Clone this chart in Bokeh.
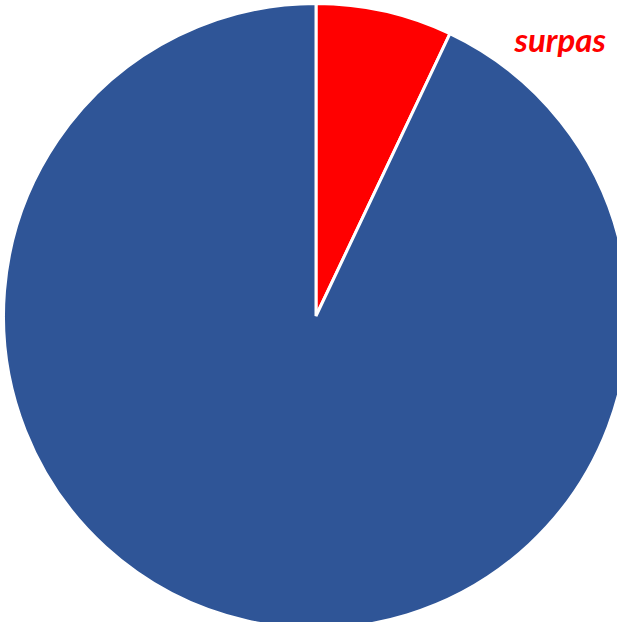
from bokeh.plotting import figure
from bokeh.models import Range1d, ColumnDataSource
from bokeh.embed import file_html
from bokeh.resources import INLINE
from bokeh.core.properties import value
import math

labels = ["surpas", "other"]
values = [7.05, 92.95]
colors = ["#FF0000", "#2F5597"]

W, H = 617, 622
p = figure(width=W, height=H, output_backend="svg", toolbar_location=None,
           x_range=Range1d(0, W), y_range=Range1d(0, H), min_border=0)
p.axis.visible = False
p.grid.visible = False
p.outline_line_color = None
p.background_fill_color = "white"

total = sum(values)
starts, ends = [], []
ang = math.pi / 2
for v in values:
    a = v / total * 2 * math.pi
    starts.append(ang - a)
    ends.append(ang)
    ang -= a

src = ColumnDataSource(dict(start=starts, end=ends, color=colors, label=labels))
cx, cy, r = 315.5, H - 315.5, 312.5
p.wedge(x=cx, y=cy, radius=r, start_angle="start", end_angle="end",
        fill_color="color", line_color="white", line_width=3, source=src)

p.text(x=[514], y=[H - 38], text=[labels[0]], text_color="#FF0000",
       text_font=value("Lato"), text_font_style="bold italic",
       text_font_size="33px", text_baseline="alphabetic", text_align="left")

open("out.html", "w").write(file_html(p, INLINE))
